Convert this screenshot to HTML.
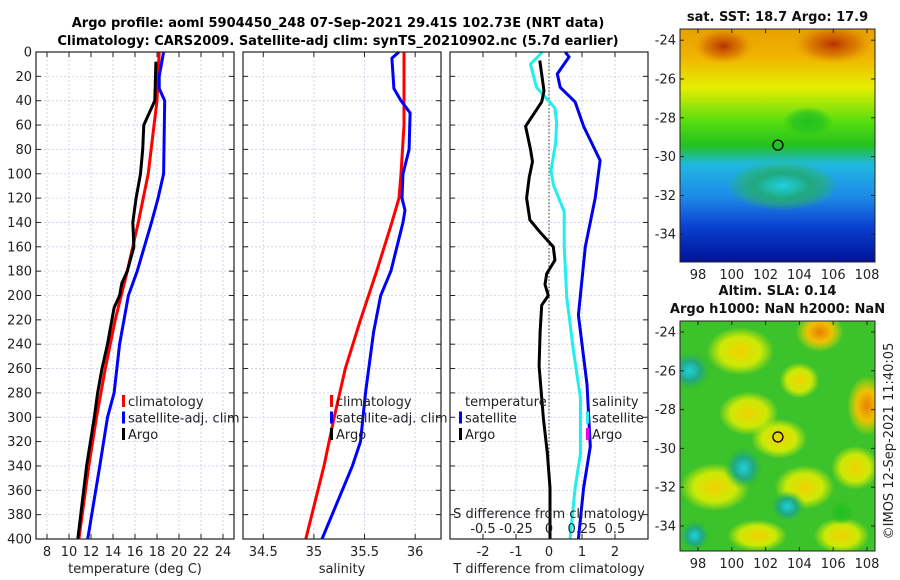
<!DOCTYPE html>
<html><head><meta charset="utf-8"><style>
body{margin:0;background:#fff;}
svg{display:block;font-family:"DejaVu Sans","Liberation Sans",sans-serif;}
</style></head><body>
<svg id="c" width="900" height="580" viewBox="0 0 900 580">
<defs>
<linearGradient id="sst" x1="0" y1="0" x2="0" y2="1">
<stop offset="0" stop-color="#e8a000"/><stop offset="0.12" stop-color="#f0b400"/><stop offset="0.25" stop-color="#e6ee00"/><stop offset="0.4" stop-color="#55dd10"/><stop offset="0.5" stop-color="#22c020"/><stop offset="0.58" stop-color="#20b8e0"/><stop offset="0.72" stop-color="#1e8ae8"/><stop offset="0.85" stop-color="#0a40d0"/><stop offset="1" stop-color="#00139a"/>
</linearGradient>
<radialGradient id="yb"><stop offset="0" stop-color="#f2d000"/><stop offset="0.6" stop-color="#e6f000" stop-opacity="0.85"/><stop offset="1" stop-color="#e6f000" stop-opacity="0"/></radialGradient>
<radialGradient id="ob"><stop offset="0" stop-color="#e88000"/><stop offset="0.5" stop-color="#f0c000"/><stop offset="1" stop-color="#f0e000" stop-opacity="0"/></radialGradient>
<radialGradient id="cb"><stop offset="0" stop-color="#20d0e0"/><stop offset="0.5" stop-color="#20a880"/><stop offset="1" stop-color="#30c030" stop-opacity="0"/></radialGradient>
<radialGradient id="rb"><stop offset="0" stop-color="#b83000"/><stop offset="0.6" stop-color="#d06000" stop-opacity="0.6"/><stop offset="1" stop-color="#e09000" stop-opacity="0"/></radialGradient>
<radialGradient id="gb"><stop offset="0" stop-color="#22c020"/><stop offset="0.6" stop-color="#22c020" stop-opacity="0.7"/><stop offset="1" stop-color="#22c020" stop-opacity="0"/></radialGradient>
</defs>
<g id="titles" font-weight="bold" font-size="13" text-anchor="middle">
<text x="338" y="27">Argo profile: aoml 5904450_248 07-Sep-2021 29.41S 102.73E (NRT data)</text>
<text x="338" y="45">Climatology: CARS2009. Satellite-adj clim: synTS_20210902.nc (5.7d earlier)</text>
</g>
<g id="plots"></g>
</svg>
<script>
// Panel 1: temperature
const tDepthClim=[0,40,100,140,180,220,260,300,340,400];
const tClim=[18.2,18.0,17.2,16.3,15.3,14.2,13.3,12.5,11.8,10.9];
const tDepthArgo=[8,40,50,60,80,100,120,140,160,180,190,200,210,240,260,280,300,340,400];
const tArgo=[17.9,17.8,17.3,16.8,16.7,16.5,16.1,15.8,15.9,15.3,14.8,14.6,14.1,13.5,13.0,12.6,12.3,11.6,10.8];
const tDepthSat=[0,20,30,40,100,120,140,180,200,240,280,300,340,400];
const tSat=[18.6,18.2,18.2,18.7,18.6,18.1,17.5,16.2,15.4,14.6,14.1,13.5,12.8,11.7];
// Panel 2: salinity
const sDepthClim=[0,60,100,120,140,180,220,260,300,340,400];
const sClim=[35.89,35.89,35.86,35.84,35.77,35.62,35.46,35.31,35.2,35.1,34.92];
const sDepthSat=[0,5,30,40,50,80,100,120,130,140,180,200,230,280,320,340,400];
const sSat=[35.84,35.77,35.79,35.86,35.95,35.94,35.88,35.87,35.9,35.88,35.76,35.66,35.59,35.51,35.46,35.38,35.08];
// Panel 3: differences (T units; S scaled x4)
const dDepthArgo=[7,32,41,61,80,90,103,120,138,148,160,171,182,191,200,208,230,258,301,330,358,400];
const dArgo=[-0.28,-0.15,-0.22,-0.71,-0.56,-0.5,-0.6,-0.68,-0.58,-0.27,0.13,0.18,-0.07,-0.12,-0.02,-0.22,-0.27,-0.3,-0.17,-0.05,0.03,0.03];
const dDepthSSat=[0,10,29,46,58,75,97,109,131,160,202,245,284,330,358,400];
const dSSat=[-0.2,-0.56,-0.38,0.18,0.23,0.2,0.06,0.13,0.46,0.46,0.54,0.74,0.95,0.95,0.79,0.64];
const dDepthTSat=[0,4,18,29,41,61,89,120,160,216,273,324,358,400];
const dTSat=[0.49,0.61,0.25,0.34,0.79,1.05,1.55,1.4,1.1,0.89,1.15,1.25,1.05,0.89];
const depthTicks=[0,20,40,60,80,100,120,140,160,180,200,220,240,260,280,300,320,340,360,380,400];
const tTicks=[8,10,12,14,16,18,20,22,24];
const sTicks=[34.5,35,35.5,36];
const dTicks=[-2,-1,0,1,2];
const sdTickLabels=["-0.5","-0.25","0","0.25","0.5"];
const sdTickVals=[-0.5,-0.25,0,0.25,0.5];
const lonTicks=[98,100,102,104,106,108];
const latTicks=[-24,-26,-28,-30,-32,-34];

const NS="http://www.w3.org/2000/svg";
const root=document.getElementById('plots');
function el(tag,attrs,parent,text){const e=document.createElementNS(NS,tag);for(const k in attrs)e.setAttribute(k,attrs[k]);if(text!==undefined)e.textContent=text;(parent||root).appendChild(e);return e;}
const Y0=52,Y1=539;
const yD=d=>Y0+d/400*(Y1-Y0);
function panel(x0,x1,xmin,xmax,name){
  const g=el('g',{});
  
  
  const sx=v=>x0+(v-xmin)/(xmax-xmin)*(x1-x0);
  return {g,sx};
}
function grid(p,x0,x1,xt,showY){
  depthTicks.forEach(d=>{const y=yD(d);
    el('line',{x1:x0,x2:x1,y1:y,y2:y,stroke:'#c8cce8','stroke-dasharray':'2,2','stroke-width':0.8},p.g);
    el('line',{x1:x0,x2:x0+5,y1:y,y2:y,stroke:'#222'},p.g);el('line',{x1:x1-5,x2:x1,y1:y,y2:y,stroke:'#222'},p.g);
    if(showY){const t=el('text',{x:x0-4,y:y+4.5,'text-anchor':'end','font-size':13,fill:'#222'},p.g,String(d));}
  });
  xt.forEach(v=>{const x=p.sx(v);
    el('line',{x1:x,x2:x,y1:Y0,y2:Y1,stroke:'#c8cce8','stroke-dasharray':'2,2','stroke-width':0.8},p.g);
    el('line',{x1:x,x2:x,y1:Y1,y2:Y1-5,stroke:'#222'},p.g);el('line',{x1:x,x2:x,y1:Y0,y2:Y0+5,stroke:'#222'},p.g);
    const t=el('text',{x:x,y:Y1+17,'text-anchor':'middle','font-size':13,fill:'#222'},p.g,String(v));
    
  });
}
function frame(p,x0,x1){el('rect',{x:x0,y:Y0,width:x1-x0,height:Y1-Y0,fill:'none',stroke:'#222','stroke-width':1.2},p.g);}
function line(p,xs,ds,color,name,w){
  const pts=xs.map((v,i)=>p.sx(v).toFixed(1)+','+yD(ds[i]).toFixed(1)).join(' ');
  const l=el('polyline',{points:pts,fill:'none',stroke:color,'stroke-width':w||3,'stroke-linejoin':'round'},p.g);
  
}
function legend(p,x,y,items){
  items.forEach((it,i)=>{
    if(it[1])el('rect',{x:x,y:y+i*16.5-11,width:3,height:12,fill:it[1]},p.g);
    const t=el('text',{x:x+6,y:y+i*16.5,'font-size':13,fill:'#222'},p.g,it[0]);
    
  });
}
function xlabel(p,cx,txt){const t=el('text',{x:cx,y:Y1+34,'text-anchor':'middle','font-size':13,fill:'#222'},p.g,txt);}

// panel 1
let p1=panel(36,234,7,25,'temperature-panel');
grid(p1,36,234,tTicks,true);
line(p1,tClim,tDepthClim,'#ff0000','temp-climatology-line');
line(p1,tSat,tDepthSat,'#0000ff','temp-satellite-line');
line(p1,tArgo,tDepthArgo,'#000000','temp-argo-line');
frame(p1,36,234);
legend(p1,122,406,[['climatology','#ff0000'],['satellite-adj. clim','#0000ff'],['Argo','#000']]);
xlabel(p1,135,'temperature (deg C)');

// panel 2
let p2=panel(243,441,34.3,36.255,'salinity-panel');
grid(p2,243,441,sTicks,false);
line(p2,sClim,sDepthClim,'#ff0000','sal-climatology-line');
line(p2,sSat,sDepthSat,'#0000ff','sal-satellite-line');
frame(p2,243,441);
legend(p2,330,406,[['climatology','#ff0000'],['satellite-adj. clim','#0000ff'],['Argo','#000']]);
xlabel(p2,342,'salinity');

// panel 3
let p3=panel(450,648,-3,3,'difference-panel');
grid(p3,450,648,dTicks,false);
el('line',{x1:p3.sx(0),x2:p3.sx(0),y1:Y0,y2:Y1,stroke:'#333','stroke-dasharray':'1.5,2','stroke-width':1},p3.g);
line(p3,dTSat,dDepthTSat,'#0000ee','t-satellite-diff-line');
line(p3,dSSat,dDepthSSat,'#22eeee','s-satellite-diff-line');
line(p3,dArgo,dDepthArgo,'#000000','t-argo-diff-line');
frame(p3,450,648);
legend(p3,459,406,[['temperature',null],['satellite','#0000ff'],['Argo','#000']]);
legend(p3,586,406,[['salinity',null],['satellite','#22eeee'],['Argo','#ee00ee']]);
let st=el('text',{x:549,y:518,'text-anchor':'middle','font-size':13,fill:'#222'},p3.g,'S difference from climatology');

sdTickVals.forEach((v,i)=>{const t=el('text',{x:p3.sx(v*4),y:533,'text-anchor':'middle','font-size':13,fill:'#222'},p3.g,sdTickLabels[i]);});
xlabel(p3,549,'T difference from climatology');

// maps
function map(x0,y0,x1,y1,latTop,name,title,fill,blobs){
  const g=el('g',{});
  
  const sx=lon=>698+(lon-98)*16.9;
  const sy=lat=>latTop+(-24-lat)*19.4;
  const cpth=el('clipPath',{id:name+'-clip'},g);
  el('rect',{x:x0,y:y0,width:x1-x0,height:y1-y0},cpth);
  const inner=el('g',{'clip-path':'url(#'+name+'-clip)'},g);
  el('rect',{x:x0,y:y0,width:x1-x0,height:y1-y0,fill:fill},inner);
  blobs.forEach(b=>el('ellipse',{cx:sx(b[0]),cy:sy(b[1]),rx:b[2],ry:b[3],fill:'url(#'+b[4]+')'},inner));
  el('rect',{x:x0,y:y0,width:x1-x0,height:y1-y0,fill:'none',stroke:'#222'},g);
  lonTicks.forEach(v=>{const x=sx(v);el('line',{x1:x,x2:x,y1:y1,y2:y1-4,stroke:'#222'},g);el('line',{x1:x,x2:x,y1:y0,y2:y0+4,stroke:'#222'},g);
    const t=el('text',{x:x,y:y1+17,'text-anchor':'middle','font-size':13,fill:'#222'},g,String(v));});
  latTicks.forEach(v=>{const y=sy(v);el('line',{x1:x0,x2:x0+4,y1:y,y2:y,stroke:'#222'},g);el('line',{x1:x1,x2:x1-4,y1:y,y2:y,stroke:'#222'},g);
    const t=el('text',{x:x0-4,y:y+4.5,'text-anchor':'end','font-size':13,fill:'#222'},g,String(v));});
  const c=el('circle',{cx:sx(102.73),cy:sy(-29.41),r:5,fill:'none',stroke:'#000','stroke-width':1.3},g);
  
  title.forEach((tt,i)=>{const t=el('text',{x:(x0+x1)/2,y:y0-8-(title.length-1-i)*18,'text-anchor':'middle','font-size':13,'font-weight':'bold',fill:'#111'},g,tt);});
}
map(680,29,875,262,40.2,'sst-map',['sat. SST: 18.7 Argo: 17.9'],'url(#sst)',
 [[99.5,-24.3,30,18,'rb'],[106,-24.2,40,20,'rb'],[103,-31.5,55,25,'cb'],[104.5,-28.2,25,15,'gb']]);
map(680,321,875,551,332,'sla-map',['Altim. SLA: 0.14','Argo h1000: NaN h2000: NaN'],'#3cc22a',
 [[100.5,-25,34,24,'yb'],[105.2,-24,24,20,'ob'],[108,-27.8,20,30,'ob'],[101,-28.2,30,22,'yb'],[102.8,-29.5,28,20,'yb'],[99,-32,35,24,'yb'],[104.3,-32,30,22,'yb'],[107.3,-31,24,22,'yb'],[104,-26.5,20,18,'yb'],[106.5,-34.5,28,18,'yb'],[101.5,-34.5,30,16,'yb'],[97.5,-26,22,20,'cb'],[100.7,-31,20,22,'cb'],[103.3,-33,18,16,'cb'],[97.8,-34.5,16,16,'cb'],[106.5,-33.3,12,12,'gb']]);
let cr=el('text',{x:893,y:441,'text-anchor':'middle','font-size':13,fill:'#222',transform:'rotate(-90 893 441)'},root,'©IMOS 12-Sep-2021 11:40:05');

</script>
</body></html>
